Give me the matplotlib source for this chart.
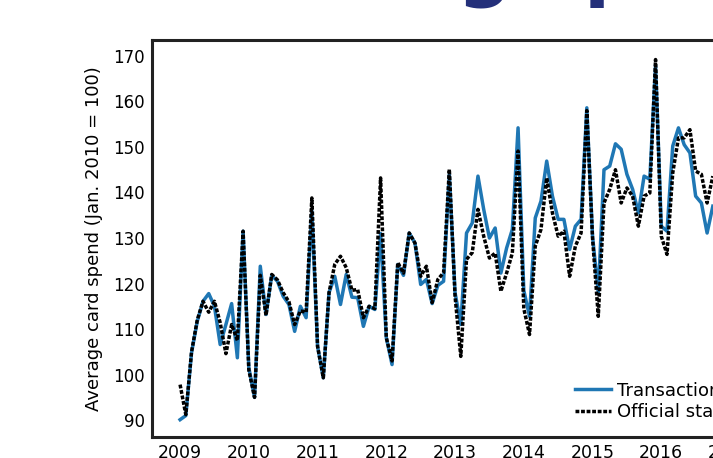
import matplotlib
matplotlib.use("Agg")
from matplotlib import pyplot as plt
import numpy as np

# monthly index, Jan 2009 = 0
transactions = [90.1, 91.0, 104.8, 111.7, 116.1, 117.8, 115.0, 106.6, 111.0, 115.6, 103.7, 131.5,
                101.5, 95.0, 123.8, 113.2, 121.8, 120.5, 117.2, 115.4, 109.5, 115.0, 112.5, 136.0,
                106.2, 99.3, 118.0, 121.6, 115.4, 122.0, 117.0, 116.9, 110.6, 115.0, 114.3, 131.0,
                108.1, 102.2, 124.2, 121.8, 131.1, 128.9, 119.8, 120.9, 115.6, 119.6, 120.5, 144.0,
                118.0, 111.0, 131.1, 133.3, 143.6, 136.3, 130.0, 132.2, 122.3, 127.8, 131.9, 154.2,
                118.5, 112.8, 134.4, 138.1, 146.9, 139.2, 134.1, 134.1, 127.5, 132.6, 134.1, 158.6,
                130.4, 118.0, 145.0, 145.8, 150.7, 149.5, 144.0, 140.7, 135.5, 143.6, 142.9, 168.0,
                132.6, 131.5, 150.2, 154.2, 150.5, 148.7, 139.2, 137.7, 131.1, 137.0]
official = [97.8, 91.2, 105.0, 112.0, 116.1, 113.7, 116.1, 111.4, 104.6, 111.0, 107.5, 131.5,
            101.0, 95.0, 121.8, 113.0, 122.0, 120.8, 118.0, 116.0, 111.0, 114.0, 113.7, 138.8,
            106.2, 99.3, 118.0, 124.2, 126.0, 123.5, 118.5, 118.7, 112.5, 115.0, 114.5, 143.2,
            108.1, 103.0, 124.6, 122.3, 131.1, 128.9, 121.6, 123.8, 115.8, 120.9, 122.4, 145.1,
            117.2, 104.0, 125.3, 126.8, 136.3, 130.4, 125.6, 126.7, 118.3, 122.3, 126.7, 149.1,
            114.5, 108.8, 128.2, 131.9, 143.2, 135.5, 130.4, 131.5, 121.6, 128.2, 131.1, 158.0,
            130.0, 112.8, 137.7, 140.7, 145.0, 137.7, 141.0, 139.2, 132.6, 139.2, 139.9, 169.2,
            130.4, 126.4, 144.3, 152.0, 152.0, 153.8, 144.7, 144.0, 137.7, 143.6]
years = ['2009', '2010', '2011', '2012', '2013', '2014', '2015', '2016', '2017', '2018']
yticks = [90, 100, 110, 120, 130, 140, 150, 160, 170]

months = np.arange(len(transactions))

fig = plt.figure(figsize=(7.13, 4.58), dpi=100)
ax = fig.add_axes([0.2132, 0.0459, 1.12, 0.8668])

ax.plot(months, transactions, color='#1f77b4', lw=2.5, label='Transaction data')
ax.plot(months, official, color='black', lw=2.5, linestyle=(0, (1.1, 0.5)),
        label='Official statistics')

ax.set_xlim(-4.9, 134.5)
ax.set_ylim(86.3, 173.5)
ax.set_xticks(np.arange(len(years)) * 12)
ax.set_xticklabels(years, fontsize=12.5)
ax.set_yticks(yticks)
ax.set_yticklabels([str(v) for v in yticks], fontsize=12)
ax.tick_params(length=0, pad=5)
for s in ax.spines.values():
    s.set_linewidth(2.2)
    s.set_color('#222222')

ax.set_ylabel('Average card spend (Jan. 2010 = 100)', fontsize=13)
ax.yaxis.set_label_coords(-0.0614, 0.5)

ax.legend(loc='upper left', bbox_to_anchor=(575 / 713, 0.1666), bbox_transform=fig.transFigure,
          frameon=False, borderpad=0, borderaxespad=0, handlelength=2.0,
          handletextpad=0.35, labelspacing=0.2, fontsize=13)

# big heading sits mostly above the canvas, only descenders show
fig.text(0.2076, 1.0175, 'Tracking spending', fontsize=55, fontweight='bold',
         color='#24307a', ha='left', va='baseline')

fig.savefig('out.png', dpi=100)
